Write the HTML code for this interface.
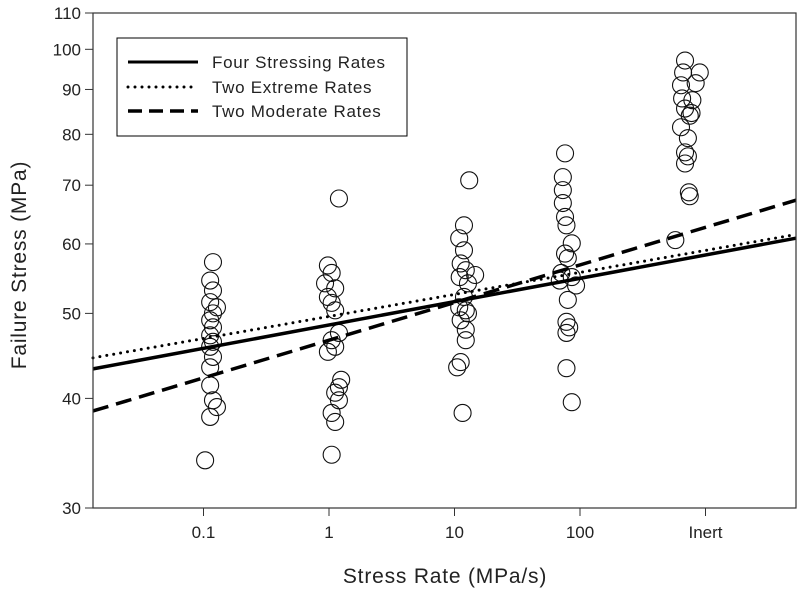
<!DOCTYPE html>
<html><head><meta charset="utf-8"><style>
body{margin:0;background:#fff}
svg{display:block;font-family:"Liberation Sans",Arial,sans-serif}
</style></head><body>
<svg id="chart" width="800" height="593" viewBox="0 0 800 593">
<g id="pts"></g>
<g id="lines"></g>
<g id="axes"></g>
<g fill="#222">
<rect x="117" y="38" width="290" height="98" fill="#fff" stroke="#000" stroke-width="1"/>
<line x1="128" y1="62" x2="198" y2="62" stroke="#000" stroke-width="3"/>
<text x="212" y="68" font-size="17" letter-spacing="0.7">Four Stressing Rates</text>
<line x1="128" y1="87" x2="198" y2="87" stroke="#000" stroke-width="3" stroke-dasharray="0 7" stroke-linecap="round"/>
<text x="212" y="93" font-size="17" letter-spacing="0.7">Two Extreme Rates</text>
<line x1="128" y1="111" x2="198" y2="111" stroke="#000" stroke-width="3.5" stroke-dasharray="14 7"/>
<text x="212" y="117" font-size="17" letter-spacing="0.7">Two Moderate Rates</text>
</g>
<text x="445" y="583" font-size="21" letter-spacing="0.8" fill="#222" text-anchor="middle">Stress Rate (MPa/s)</text>
<text transform="translate(26,265) rotate(-90)" font-size="21" letter-spacing="0.8" fill="#222" text-anchor="middle">Failure Stress (MPa)</text>
</svg>
<script>
const yTicks=[30,40,50,60,70,80,90,100,110];
const xTickRates=[0.1,1,10,100,1000];
const xTickLabels=["0.1","1","10","100","Inert"];
const g01x=[0.119,0.113,0.119,0.113,0.128,0.119,0.113,0.119,0.113,0.119,0.113,0.119,0.113,0.113,0.119,0.128,0.113,0.103];
const g01y=[57.2,54.5,53.1,51.5,50.8,50.0,49.1,48.2,47.2,46.4,45.8,44.6,43.4,41.4,39.8,39.1,38.1,34.0];
const g1x=[1.2,0.98,1.05,0.93,1.12,0.98,1.05,1.12,1.2,1.05,1.12,0.98,1.25,1.2,1.12,1.2,1.05,1.12,1.05];
const g1y=[67.6,56.7,55.6,54.1,53.4,52.2,51.4,50.4,47.5,46.6,45.8,45.2,42.0,41.2,40.6,39.8,38.5,37.6,34.5];
const g10x=[13.1,11.9,10.9,11.9,11.2,12.3,14.6,11.0,12.8,11.9,10.9,12.3,12.8,11.2,12.3,12.3,11.2,10.5,11.6];
const g10y=[70.9,63.0,60.9,59.0,57.0,56.0,55.3,55.0,54.1,52.2,50.8,50.4,50.0,49.1,47.9,46.6,44.0,43.4,38.5];
const g100x=[76,73,73,73,76,78,86,76,80,71,86,69,93,80,78,82,78,78,86];
const g100y=[76.1,71.5,69.1,66.8,64.4,63.0,60.1,58.5,57.8,55.6,55.0,54.5,53.8,51.8,48.9,48.2,47.5,43.3,39.6];
const gInx=[687,663,900,638,835,651,786,687,774,749,638,724,687,724,687,737,749,575];
const gIny=[97.1,94.1,94.1,91.0,91.5,87.9,87.5,85.6,84.6,84.0,81.5,79.2,76.3,75.5,74.1,68.7,68.0,60.6];
const fitNames=["four-stressing-rates","two-extreme-rates","two-moderate-rates"];
const fitAt1=[48.5,49.6,46.6];
const fitExp=[0.0266,0.0251,0.0429];

const L=93,R=796,T=13,B=508;
const X=r=>329+125.5*Math.log10(r);
const Y=v=>B-(B-T)*Math.log10(v/30)/Math.log10(110/30);
const NS="http://www.w3.org/2000/svg";
function mk(parent,tag,attrs){const e=document.createElementNS(NS,tag);for(const k in attrs)e.setAttribute(k,attrs[k]);parent.appendChild(e);return e;}
const pts=document.getElementById('pts');
[[g01x,g01y,'0-1'],[g1x,g1y,'1'],[g10x,g10y,'10'],[g100x,g100y,'100'],[gInx,gIny,'inert']].forEach(([xs,ys,n])=>{
  xs.forEach((r,i)=>{
    const c=mk(pts,'circle',{cx:X(r),cy:Y(ys[i]),r:8.5,fill:'none',stroke:'#111','stroke-width':1.1});
    
    
  });
});
const lines=document.getElementById('lines');
const styles=[{},{'stroke-dasharray':'0 7','stroke-linecap':'round'},{'stroke-dasharray':'16 8'}];
fitAt1.forEach((a,i)=>{
  const rl=Math.pow(10,(L-329)/125.5),rr=Math.pow(10,(R-329)/125.5);
  const at={x1:L,y1:Y(a*Math.pow(rl,fitExp[i])),x2:R,y2:Y(a*Math.pow(rr,fitExp[i])),stroke:'#000','stroke-width':i==1?3:3.5};
  Object.assign(at,styles[i]);
  const ln=mk(lines,'line',at);
  
  
});
const ax=document.getElementById('axes');
const frame=mk(ax,'rect',{x:L,y:T,width:R-L,height:B-T,fill:'none',stroke:'#333','stroke-width':1.2});


yTicks.forEach(v=>{
  const y=Y(v);
  const t=mk(ax,'line',{x1:L-8,y1:y,x2:L,y2:y,stroke:'#333'});
  
  
  const tx=mk(ax,'text',{x:L-12,y:y+6,'font-size':17,'text-anchor':'end',fill:'#222'});
  tx.textContent=v;
  
  
});
xTickRates.forEach((r,i)=>{
  const x=X(r);
  const t=mk(ax,'line',{x1:x,y1:B,x2:x,y2:B+8,stroke:'#333'});
  
  
  const tx=mk(ax,'text',{x:x,y:B+30,'font-size':17,'text-anchor':'middle',fill:'#222'});
  tx.textContent=xTickLabels[i];
  
  
});
</script>
</body></html>
